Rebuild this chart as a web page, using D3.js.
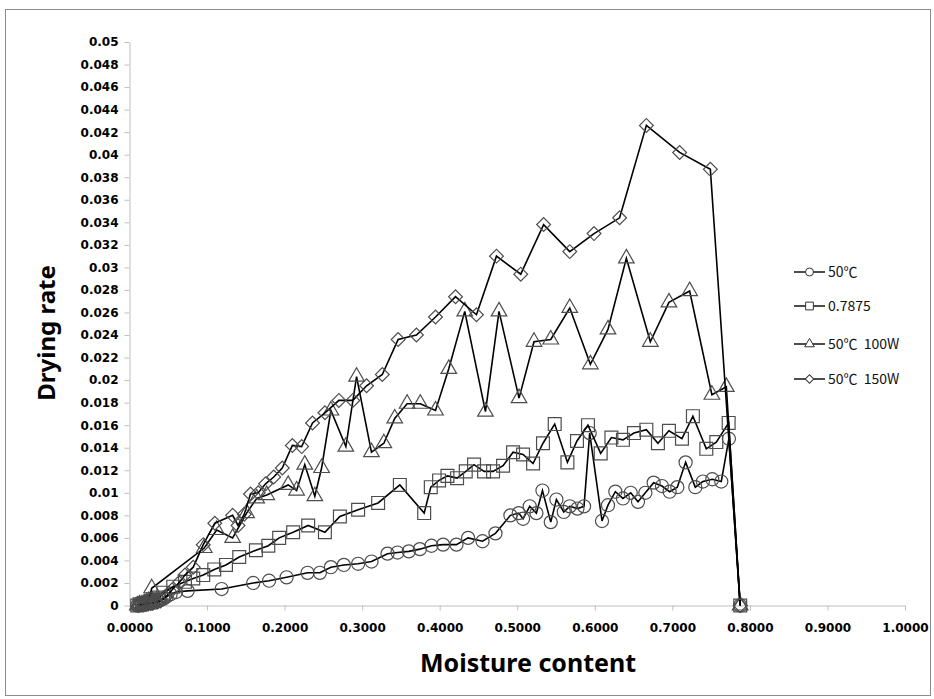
<!DOCTYPE html>
<html>
<head>
<meta charset="utf-8">
<script src="https://cdn.jsdelivr.net/npm/d3@7"></script>
<style>
  body { margin: 0; background: #fff; }
  text { font-family: "DejaVu Sans", sans-serif; }
</style>
</head>
<body>
<script>
// moisture content / drying rate pairs
var series50C = [[0.010,0],[0.013,0.0001],[0.016,0.0001],[0.019,0.0001],[0.022,0.0002],[0.025,0.0002],[0.028,0.0002],[0.031,0.0003],[0.034,0.0003],[0.037,0.0004],[0.040,0.0005],[0.044,0.0006],[0.048,0.0008],[0.053,0.0010],[0.060,0.0012],
  [0.075,0.0013],[0.1188,0.00146],[0.1595,0.0020],[0.180,0.0022],[0.2026,0.0025],[0.2296,0.0029],[0.2455,0.0029],[0.2597,0.0034],[0.2764,0.0036],[0.2948,0.0037],
  [0.3121,0.0039],[0.3327,0.0046],[0.3456,0.0047],[0.3602,0.0048],[0.3744,0.0050],[0.3894,0.0053],[0.4044,0.0054],[0.4216,0.0054],[0.4366,0.0060],[0.4552,0.0057],
  [0.4719,0.0064],[0.4912,0.0080],[0.5019,0.0082],[0.5075,0.0077],[0.5161,0.0088],[0.5247,0.0082],[0.5325,0.0102],[0.5432,0.0074],[0.5505,0.0094],[0.5600,0.0083],
  [0.5677,0.0088],[0.5776,0.0086],[0.5861,0.0088],[0.5934,0.0153],[0.6093,0.0075],[0.6170,0.0089],[0.6265,0.0101],[0.6363,0.0095],[0.6463,0.0100],[0.6557,0.0092],
  [0.6652,0.0100],[0.6759,0.0109],[0.6866,0.0106],[0.6965,0.0101],[0.7064,0.0105],[0.7171,0.0127],[0.7296,0.0105],[0.7394,0.0110],[0.7515,0.0112],[0.7631,0.0110],
  [0.7729,0.0148],[0.7875,0]];

var series07875 = [[0.010,0],[0.013,0.0001],[0.016,0.0001],[0.019,0.0002],[0.022,0.0002],[0.026,0.0003],[0.030,0.0004],[0.034,0.0005],[0.038,0.0007],
  [0.0436,0.00114],[0.0564,0.00167],[0.0715,0.0021],[0.0822,0.0024],[0.0951,0.0027],[0.1093,0.0032],[0.1244,0.0036],[0.1415,0.0043],[0.163,0.0049],[0.179,0.0053],
  [0.193,0.0060],[0.211,0.0065],[0.2304,0.0071],[0.252,0.0065],[0.2713,0.0079],[0.2948,0.0085],[0.3206,0.0091],[0.3486,0.0107],[0.380,0.0082],[0.3885,0.0105],
  [0.3992,0.0111],[0.410,0.0115],[0.4224,0.0113],[0.4336,0.0119],[0.4443,0.0125],[0.4572,0.0119],[0.4688,0.0119],[0.4817,0.0124],[0.4946,0.0136],[0.5075,0.0134],
  [0.5204,0.0126],[0.5332,0.0144],[0.5483,0.0161],[0.5647,0.0127],[0.577,0.0146],[0.5912,0.0160],[0.6076,0.0135],[0.6214,0.0149],[0.6363,0.0147],[0.6505,0.0153],
  [0.6665,0.0156],[0.6814,0.0144],[0.6956,0.0155],[0.7124,0.0148],[0.7265,0.0168],[0.7438,0.0139],[0.7567,0.0145],[0.7726,0.0162],[0.7875,0]];

var series100W = [[0.010,0],[0.013,0.0001],[0.016,0.0001],[0.019,0.0002],[0.022,0.0003],[0.025,0.0004],
  [0.0286,0.00153],[0.0964,0.0051],[0.1124,0.0067],[0.133,0.0060],[0.151,0.0082],[0.164,0.0095],[0.177,0.0098],[0.2046,0.0107],[0.2155,0.0102],
  [0.226,0.0125],[0.239,0.0097],[0.2477,0.0122],[0.2597,0.0173],[0.279,0.0141],[0.2928,0.0203],[0.312,0.0136],[0.328,0.0144],[0.342,0.0166],[0.358,0.0179],
  [0.375,0.0179],[0.3946,0.0173],[0.4117,0.0210],[0.4323,0.0261],[0.459,0.0172],[0.4765,0.0261],[0.5023,0.0184],[0.5216,0.0234],[0.5432,0.0236],[0.5677,0.0264],
  [0.5943,0.0214],[0.617,0.0245],[0.6407,0.0308],[0.6716,0.0234],[0.6956,0.0269],[0.7223,0.0279],[0.751,0.0187],[0.7696,0.0194],[0.7875,0]];

var series150W = [[0.012,0],[0.015,0.0001],[0.018,0.0001],[0.021,0.0001],[0.024,0.0002],[0.027,0.0002],[0.030,0.0002],[0.033,0.0003],[0.036,0.0003],[0.040,0.0004],
  [0.046,0.0007],[0.055,0.0014],[0.065,0.0021],[0.0715,0.0027],[0.0822,0.0034],[0.0951,0.0054],[0.110,0.0073],[0.133,0.0080],[0.140,0.0071],[0.148,0.0081],
  [0.156,0.0099],[0.166,0.0100],[0.1755,0.0108],[0.186,0.0114],[0.197,0.0122],[0.210,0.0142],[0.222,0.0141],[0.236,0.0162],[0.252,0.0171],[0.270,0.0182],
  [0.288,0.0182],[0.3057,0.0195],[0.326,0.0205],[0.3464,0.0236],[0.370,0.0240],[0.3946,0.0256],[0.4204,0.0274],[0.4474,0.0258],[0.4732,0.0310],[0.5045,0.0294],
  [0.534,0.0338],[0.5677,0.0314],[0.599,0.0330],[0.632,0.0344],[0.6665,0.0426],[0.7094,0.0402],[0.749,0.0387],[0.7875,0]];

var seriesNames = ["50\u2103", "0.7875", "50\u2103  100W", "50\u2103  150W"];
var xTicks = [0, 0.1, 0.2, 0.3, 0.4, 0.5, 0.6, 0.7, 0.8, 0.9, 1.0];
var yTicks = [0,0.002,0.004,0.006,0.008,0.01,0.012,0.014,0.016,0.018,0.02,0.022,0.024,0.026,0.028,0.03,0.032,0.034,0.036,0.038,0.04,0.042,0.044,0.046,0.048,0.05];

var W = 934, H = 699;
var margin = { top: 42, right: 29, bottom: 93.5, left: 129.5 };
var width = W - margin.left - margin.right;
var height = H - margin.top - margin.bottom;

var svg = d3.select("body").append("svg")
    .attr("width", W)
    .attr("height", H);

// outer frame
svg.append("rect")
    .attr("x", 5.5).attr("y", 9.5)
    .attr("width", 925).attr("height", 686)
    .attr("fill", "none")
    .attr("stroke", "#8c8c8c");

var g = svg.append("g")
    .attr("transform", "translate(" + margin.left + "," + margin.top + ")");

var x = d3.scaleLinear().domain([0, 1]).range([0, width]);
var y = d3.scaleLinear().domain([0, 0.05]).range([height, 0]);

// axes
var xAxis = g.append("g")
    .attr("transform", "translate(0," + height + ")")
    .call(d3.axisBottom(x).tickValues(xTicks).tickFormat(d3.format(".4f")).tickSize(5).tickSizeOuter(0));
var yAxis = g.append("g")
    .call(d3.axisLeft(y).tickValues(yTicks).tickFormat(d => +d.toFixed(3)).tickSize(5).tickSizeOuter(0));

[xAxis, yAxis].forEach(function(a) {
    a.select(".domain").attr("stroke", "#bfbfbf");
    a.selectAll(".tick line").attr("stroke", "#bfbfbf");
    a.selectAll(".tick text")
        .attr("fill", "#000")
        .style("font-family", "'DejaVu Sans', sans-serif")
        .style("font-weight", "bold")
        .style("font-size", "12px");
});
xAxis.selectAll(".tick text").attr("y", 18).attr("dy", "0.71em");
yAxis.selectAll(".tick text").attr("x", -11);

// markers
var shapes = [
    { type: d3.symbolCircle, size: 135, rot: 0, lsize: 50 },
    { type: d3.symbolSquare, size: 165, rot: 0, lsize: 60 },
    { type: d3.symbolTriangle, size: 105, rot: 0, lsize: 40 },
    { type: d3.symbolSquare, size: 95, rot: 45, lsize: 36 }
];
var allSeries = [series50C, series07875, series100W, series150W];

var line = d3.line()
    .x(d => x(d[0]))
    .y(d => y(d[1]));

allSeries.forEach(function(data, i) {
    var s = shapes[i];
    g.append("path")
        .datum(data)
        .attr("d", line)
        .attr("fill", "none")
        .attr("stroke", "#000")
        .attr("stroke-width", 1.6);

    g.selectAll("path.m" + i)
        .data(data)
        .enter()
        .append("path")
        .attr("class", "m" + i)
        .attr("d", d3.symbol().type(s.type).size(s.size))
        .attr("transform", d => "translate(" + x(d[0]) + "," + y(d[1]) + ") rotate(" + s.rot + ")")
        .attr("fill", "none")
        .attr("stroke", "#4d4d4d")
        .attr("stroke-width", 1.2);
});

// legend
var legend = svg.append("g").attr("transform", "translate(794,0)");
var legendY = [272, 306, 344, 379];
seriesNames.forEach(function(name, i) {
    var s = shapes[i];
    var row = legend.append("g").attr("transform", "translate(0," + legendY[i] + ")");
    row.append("line")
        .attr("x1", 0).attr("x2", 31)
        .attr("stroke", "#000").attr("stroke-width", 1.4);
    row.append("path")
        .attr("d", d3.symbol().type(s.type).size(s.lsize))
        .attr("transform", "translate(15.5,0) rotate(" + s.rot + ")")
        .attr("fill", "#fff")
        .attr("stroke", "#333")
        .attr("stroke-width", 1);
    row.append("text")
        .attr("x", 34)
        .attr("y", 0)
        .attr("dy", "0.35em")
        .style("font-family", "'Noto Sans CJK KR', 'Noto Sans', sans-serif")
        .style("font-size", "14px")
        .style("white-space", "pre")
        .attr("fill", "#111")
        .text(name);
});

// axis titles
svg.append("text")
    .text("Drying rate")
    .attr("transform", "rotate(-90)")
    .attr("x", -333)
    .attr("y", 55)
    .attr("text-anchor", "middle")
    .style("font-family", "'Noto Sans', sans-serif")
    .style("font-weight", "bold")
    .style("font-size", "24px");

svg.append("text")
    .text("Moisture content")
    .attr("x", 528)
    .attr("y", 672)
    .attr("text-anchor", "middle")
    .style("font-family", "'Noto Sans', sans-serif")
    .style("font-weight", "bold")
    .style("font-size", "25px");
</script>
</body>
</html>
